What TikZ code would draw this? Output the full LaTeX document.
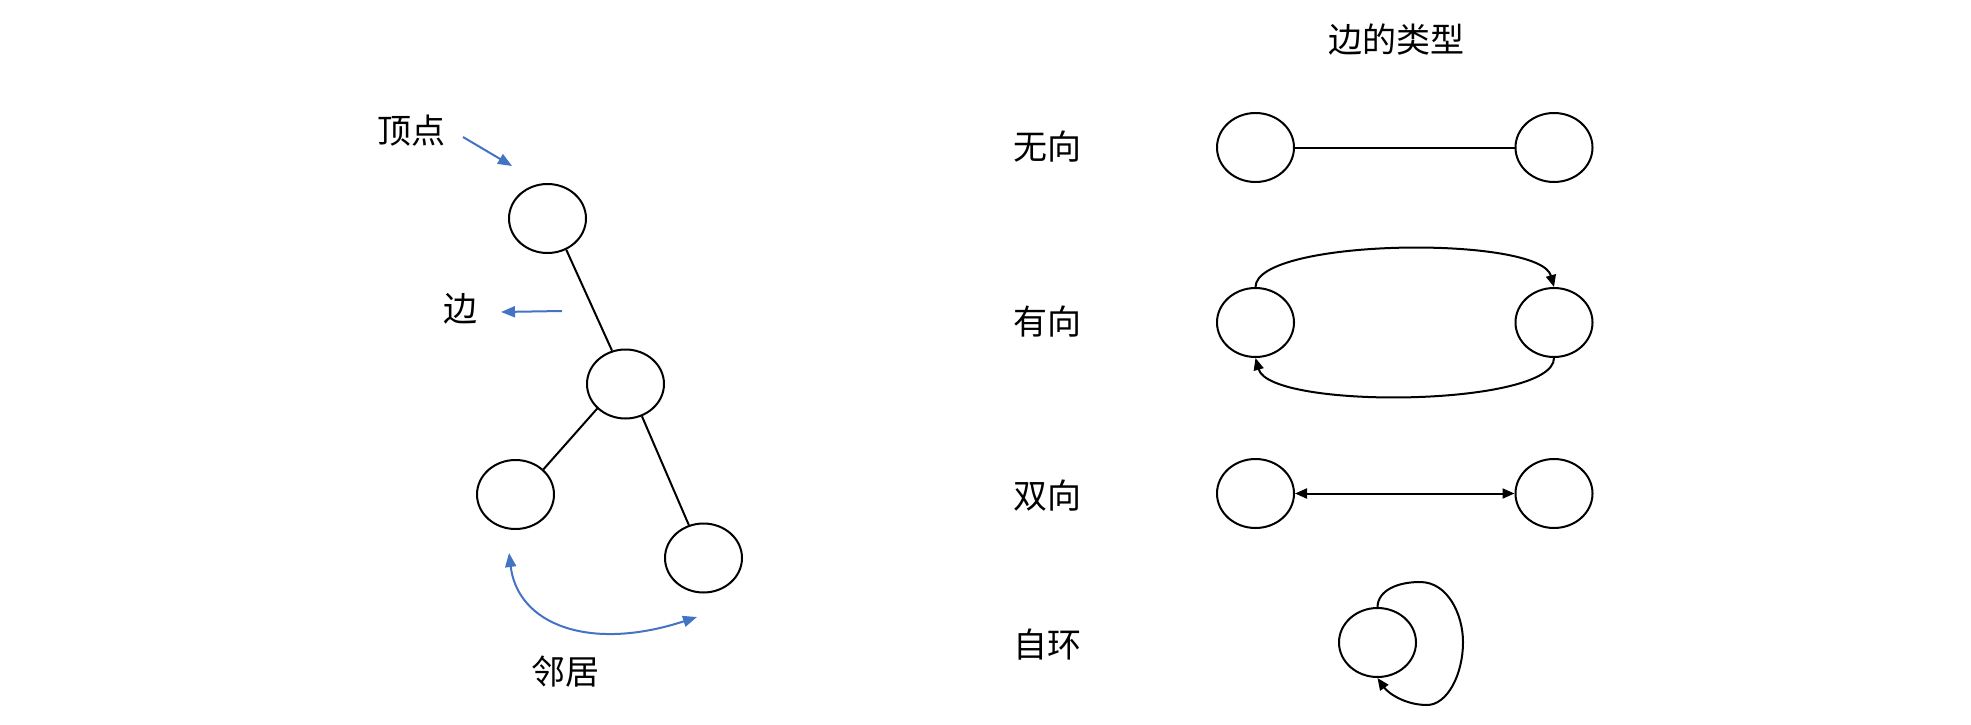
\documentclass[tikz,border=0pt]{standalone}
\usepackage{fontspec}
\setmainfont{Noto Sans CJK SC}
\usetikzlibrary{arrows.meta,shapes.geometric}
\definecolor{blueacc}{HTML}{4472C4}
\begin{document}
\begin{tikzpicture}[x=1pt,y=-1pt,
  vtx/.style={ellipse,draw,line width=2pt,minimum width=77pt,minimum height=69pt,inner sep=0pt},
  lbl/.style={font=\fontsize{34}{40}\selectfont,inner sep=0pt},
  edge/.style={draw,line width=2pt},
  blk/.style={-{Triangle[length=12pt,width=10pt]}},
  bluearr/.style={draw=blueacc,line width=2pt,-{Triangle[length=14pt,width=11pt]}}]
\useasboundingbox (0,0) rectangle (1971,725);
% left tree
\node[vtx] (T) at (547.5,218.5) {};
\node[vtx] (M) at (625.5,384) {};
\node[vtx] (L) at (515.5,494.5) {};
\node[vtx] (R) at (703.5,558) {};
\draw[edge] (T.-59) -- (M.112);
\draw[edge] (M.221) -- (L.42);
\draw[edge] (M.-63) -- (R.114);
\node[lbl] (tvx) at (411,131) {顶点};
\node[lbl] (tedge) at (460,309) {边};
\node[lbl] (tnb) at (565,672) {邻居};
\coordinate (a1s) at (463,137);
\coordinate (a1e) at (512,166);
\coordinate (a2s) at (562,311);
\coordinate (a2e) at (501,312);
\coordinate (nA) at (509,553);
\coordinate (nB) at (697,617);
\draw[bluearr] (a1s) -- (a1e);
\draw[bluearr] (a2s) -- (a2e);
\draw[bluearr,{Triangle[length=14pt,width=11pt]}-{Triangle[length=14pt,width=11pt]}] (nA) .. controls (518,625) and (590,652) .. (nB);
% right side
\node[lbl] (title) at (1396,40) {边的类型};
\node[lbl] (r1) at (1047,147) {无向};
\node[lbl] (r2) at (1047,322) {有向};
\node[lbl] (r3) at (1047,496) {双向};
\node[lbl] (r4) at (1047,645) {自环};
\node[vtx] (L1) at (1255.5,147.5) {};
\node[vtx] (R1) at (1554,147.5) {};
\node[vtx] (L2) at (1255.5,322.5) {};
\node[vtx] (R2) at (1554,322.5) {};
\node[vtx] (L3) at (1255.5,493.5) {};
\node[vtx] (R3) at (1554,493.5) {};
\node[vtx] (S) at (1377.5,642.5) {};
\draw[edge] (L1) -- (R1);
\draw[edge,blk] (L2.north) .. controls (1256,238) and (1540,235) .. (R2.north);
\draw[edge,blk] (R2.south) .. controls (1554,407) and (1270,410) .. (L2.south);
\draw[edge,{Triangle[length=12pt,width=10pt]}-{Triangle[length=12pt,width=10pt]}] (L3) -- (R3);
\draw[edge,blk] (S.north) .. controls (1378,590) and (1398,582) .. (1420,582)
  .. controls (1448,582) and (1463,615) .. (1463,642)
  .. controls (1463,675) and (1447,705) .. (1427,705)
  .. controls (1405,705) and (1388,693) .. (S.south);
\end{tikzpicture}
\end{document}
